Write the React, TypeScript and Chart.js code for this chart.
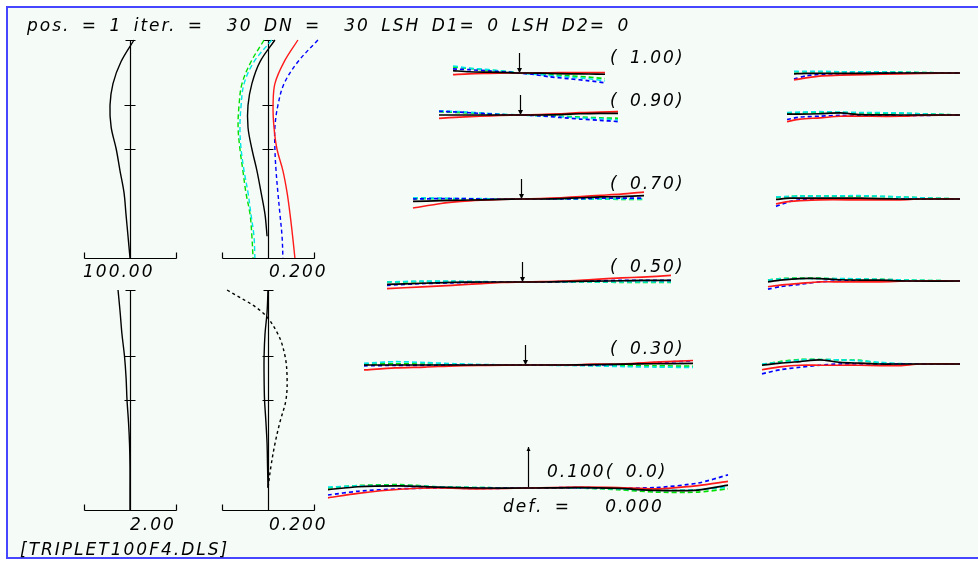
import { useEffect, useRef } from "react";
import { Chart, registerables } from "chart.js";

Chart.register(...registerables);

// ======================= DATA =======================
// relative field height levels used by the four left-hand plots
const heightLevels = [1.0, 0.9, 0.8, 0.7, 0.6, 0.5, 0.4, 0.3, 0.2, 0.1, 0.0];
const heightTicks = [0.7, 0.5];

// top-left plot (full scale 100.00)
const scaleTopLeft = 100.0;
const topLeftBlack = [8.7, -19.6, -37.0, -43.5, -41.0, -30.0, -21.7, -13.0, -8.7, -4.3, 0.0];

// top-right plot (full scale 0.200)
const scaleTopRight = 0.2;
const topRightBlack = [0.030, -0.035, -0.070, -0.087, -0.087, -0.070, -0.048, -0.030, -0.013, -0.004, null];
const topRightRed = [0.130, 0.070, 0.030, 0.022, 0.026, 0.039, 0.065, 0.083, 0.096, 0.107, 0.117];
const topRightBlue = [0.217, 0.130, 0.070, 0.043, 0.030, 0.030, 0.035, 0.043, 0.052, 0.061, 0.065];
const topRightCyan = [0.017, -0.061, -0.104, -0.117, -0.122, -0.117, -0.104, -0.087, -0.074, -0.061, -0.057];
const topRightGreen = [-0.017, -0.074, -0.113, -0.126, -0.130, -0.122, -0.109, -0.096, -0.078, -0.070, -0.065];

// bottom-left plot (full scale 2.00)
const scaleBottomLeft = 2.0;
const bottomLeftBlack = [-0.52, -0.43, -0.35, -0.24, -0.17, -0.13, -0.065, -0.02, 0, 0, 0];

// bottom-right plot (full scale 0.200)
const scaleBottomRight = 0.2;
const bottomRightSolid = [0, -0.004, -0.013, -0.017, -0.017, -0.015, -0.009, -0.004, -0.002, 0, null];
const bottomRightDashed = [-0.178, -0.026, 0.043, 0.074, 0.083, 0.078, 0.052, 0.030, 0.013, 0, null];

// ray fans
const fanScale = 0.1;
const defocus = 0.0;
const fanFields = ["1.00", "0.90", "0.70", "0.50", "0.30", "0.0"];

// tangential fans
const tan100Pupil = [-0.33, -0.25, -0.15, -0.05, 0, 0.05, 0.15, 0.25, 0.35, 0.43];
const tan100Black = [0.0057, 0.003, 0.002, 0.001, 0, 0, -0.001, -0.002, -0.0025, -0.003];
const tan100Red = [-0.004, -0.002, -0.001, 0, 0, 0, 0.0005, 0.001, 0.001, 0.001];
const tan100Blue = [0.010, 0.008, 0.005, 0.002, 0, -0.002, -0.009, -0.014, -0.019, -0.024];
const tan100Cyan = [0.017, 0.012, 0.008, 0.003, 0, -0.002, -0.006, -0.010, -0.014, -0.019];
const tan100Green = [0.0147, 0.011, 0.007, 0.003, 0, -0.001, -0.004, -0.007, -0.010, -0.014];

const tan090Pupil = [-0.405, -0.3, -0.2, -0.1, 0, 0.1, 0.2, 0.3, 0.4, 0.49];
const tan090Black = [0, 0, 0, 0, 0, 0, 0.001, 0.003, 0.004, 0.004];
const tan090Red = [-0.008, -0.005, -0.003, -0.001, 0, 0.001, 0.003, 0.006, 0.007, 0.008];
const tan090Blue = [0.009, 0.007, 0.004, 0.001, 0, -0.002, -0.006, -0.010, -0.013, -0.016];
const tan090Cyan = [0.010, 0.008, 0.005, 0.002, 0, -0.002, -0.004, -0.007, -0.009, -0.012];
const tan090Green = [0.008, 0.006, 0.004, 0.001, 0, -0.001, -0.003, -0.005, -0.007, -0.008];

const tan070Pupil = [-0.54, -0.4, -0.3, -0.2, -0.1, 0, 0.1, 0.2, 0.3, 0.4, 0.5, 0.615];
const tan070Black = [-0.006, -0.004, -0.003, -0.002, -0.001, 0, 0, 0.001, 0.003, 0.005, 0.006, 0.008];
const tan070Red = [-0.022, -0.011, -0.006, -0.003, -0.001, 0, 0.001, 0.003, 0.006, 0.009, 0.012, 0.017];
const tan070Blue = [0, 0.001, 0.001, 0, 0, 0, 0, 0, 0.001, 0.002, 0.002, 0.002];
const tan070Cyan = [0.003, 0.002, 0.001, 0.001, 0, 0, 0, 0, 0, 0, 0, 0];
const tan070Green = [0.001, 0.001, 0, 0, 0, 0, 0, 0, 0, 0, -0.001, -0.001];

const tan050Pupil = [-0.675, -0.5, -0.35, -0.2, -0.1, 0, 0.1, 0.2, 0.35, 0.5, 0.6, 0.745];
const tan050Black = [-0.006, -0.003, -0.001, 0, 0, 0, 0, 0.001, 0.002, 0.003, 0.004, 0.004];
const tan050Red = [-0.016, -0.012, -0.008, -0.004, -0.001, 0, 0.001, 0.002, 0.006, 0.010, 0.012, 0.016];
const tan050Blue = [-0.008, -0.004, -0.002, -0.001, 0, 0, 0, 0.001, 0.003, 0.004, 0.004, 0.004];
const tan050Cyan = [0, 0.002, 0.002, 0.001, 0, 0, 0, 0, 0, 0, 0, 0];
const tan050Green = [0, 0.001, 0.001, 0, 0, 0, 0, 0, 0, -0.001, -0.001, -0.001];

const tan030Pupil = [-0.805, -0.65, -0.5, -0.35, -0.2, 0, 0.2, 0.35, 0.5, 0.65, 0.84];
const tan030Black = [0, 0, 0, 0, 0, 0, 0, 0.001, 0.002, 0.003, 0.004];
const tan030Red = [-0.012, -0.007, -0.005, -0.002, -0.001, 0, 0, 0.002, 0.003, 0.007, 0.011];
const tan030Blue = [-0.002, -0.001, -0.001, 0, 0, 0, 0, 0, 0.002, 0.006, 0.010];
const tan030Cyan = [0.004, 0.008, 0.006, 0.003, 0.001, 0, -0.001, -0.002, -0.004, -0.005, -0.006];
const tan030Green = [0.002, 0.003, 0.002, 0.001, 0, 0, 0, -0.001, -0.002, -0.002, -0.003];

const tan000Pupil = [-1.0, -0.85, -0.64, -0.45, -0.25, 0, 0.25, 0.45, 0.64, 0.85, 1.0];
const tan000Black = [-0.004, 0.003, 0.005, 0.002, 0, 0, 0.001, -0.001, -0.006, -0.005, 0.007];
const tan000Red = [-0.024, -0.013, -0.003, 0, -0.002, 0, 0.002, 0.001, -0.002, 0.006, 0.016];
const tan000Blue = [-0.017, -0.008, -0.002, 0, -0.001, 0, 0.001, 0, 0.001, 0.012, 0.032];
const tan000Cyan = [0.002, 0.005, 0.006, 0.003, 0.001, 0, 0, -0.002, -0.006, -0.004, 0.002];
const tan000Green = [0, 0.006, 0.008, 0.003, 0.001, 0, 0, -0.004, -0.010, -0.010, -0.002];

// sagittal fans (pupil edge on the left, centre on the right)
const sag100Pupil = [-0.83, -0.77, -0.69, -0.6, -0.475, -0.3, -0.19, 0];
const sag100Black = [-0.002, -0.001, -0.001, -0.001, -0.001, 0, 0, 0];
const sag100Red = [-0.017, -0.012, -0.007, -0.005, -0.004, -0.002, -0.001, 0];
const sag100Blue = [-0.015, -0.007, -0.003, -0.002, -0.001, 0, 0, 0];
const sag100Cyan = [0.004, 0.004, 0.004, 0.003, 0.003, 0.002, 0.001, 0];
const sag100Green = [0.003, 0.003, 0.003, 0.003, 0.003, 0.002, 0.001, 0];

const sag090Pupil = [-0.865, -0.8, -0.7, -0.6, -0.5, -0.3, -0.2, 0];
const sag090Black = [0.002, 0.002, 0.003, 0.005, 0.001, 0, 0, 0];
const sag090Red = [-0.016, -0.010, -0.007, -0.003, -0.003, -0.003, -0.001, 0];
const sag090Blue = [-0.011, -0.005, -0.003, -0.001, -0.002, -0.002, -0.001, 0];
const sag090Cyan = [0.006, 0.007, 0.008, 0.007, 0.006, 0.005, 0.003, 0];
const sag090Green = [0.004, 0.005, 0.006, 0.006, 0.005, 0.004, 0.003, 0];

const sag070Pupil = [-0.92, -0.85, -0.8, -0.7, -0.5, -0.3, -0.2, 0];
const sag070Black = [-0.001, 0.002, 0.002, 0.002, 0.002, 0, 0, 0];
const sag070Red = [-0.012, -0.006, -0.004, -0.002, -0.002, -0.002, 0, 0];
const sag070Blue = [-0.018, -0.006, -0.002, 0, 0, 0, 0, 0];
const sag070Cyan = [0.005, 0.006, 0.007, 0.007, 0.008, 0.005, 0.003, 0];
const sag070Green = [0.004, 0.006, 0.007, 0.007, 0.007, 0.005, 0.003, 0];

const sag050Pupil = [-0.96, -0.9, -0.8, -0.7, -0.6, -0.4, -0.25, 0];
const sag050Black = [-0.002, 0.002, 0.006, 0.006, 0.003, 0.002, 0, 0];
const sag050Red = [-0.014, -0.010, -0.006, -0.002, -0.002, -0.002, 0, 0];
const sag050Blue = [-0.020, -0.014, -0.008, -0.002, 0, 0, 0, 0];
const sag050Cyan = [0.002, 0.005, 0.006, 0.006, 0.006, 0.004, 0.002, 0];
const sag050Green = [0.002, 0.006, 0.007, 0.007, 0.005, 0.004, 0.002, 0];

const sag030Pupil = [-0.99, -0.9, -0.8, -0.7, -0.6, -0.5, -0.4, -0.3, -0.2, 0];
const sag030Black = [-0.003, 0.002, 0.006, 0.010, 0.004, 0.002, 0, 0, 0, 0];
const sag030Red = [-0.014, -0.007, -0.003, -0.003, -0.003, -0.003, -0.004, -0.004, 0, 0];
const sag030Blue = [-0.024, -0.014, -0.008, -0.003, 0, 0, 0, 0, 0, 0];
const sag030Cyan = [0, 0.004, 0.010, 0.011, 0.010, 0.008, 0.004, 0.001, 0, 0];
const sag030Green = [-0.002, 0.006, 0.011, 0.011, 0.010, 0.009, 0.002, 0, 0, 0];

// header / captions
const headerText = "pos. = 1 iter. =  30 DN =  30 LSH D1= 0 LSH D2= 0";
const fileName = "[TRIPLET100F4.DLS]";

// ======================= STYLE / LAYOUT =======================
type Box = { left: number; top: number; width: number; height: number };
type Spec = {
  box: Box;
  ox: number;
  oy: number;
  kx: number;
  ky: number;
  datasets: any[];
  decor: (c: Chart) => void;
};

const LINE = {
  black: { borderColor: "#000000", borderDash: [] as number[] },
  red: { borderColor: "#ff1a1a", borderDash: [] as number[] },
  blue: { borderColor: "#0000ff", borderDash: [4, 3] },
  cyan: { borderColor: "#00e6e6", borderDash: [5, 3] },
  green: { borderColor: "#00e000", borderDash: [5, 3] },
};
type LineKey = keyof typeof LINE;

function vertSeries(values: (number | null)[], key: LineKey, dash?: number[]) {
  const data = heightLevels
    .map((h, i) => (values[i] === null ? null : { x: values[i] as number, y: h }))
    .filter((p) => p !== null);
  return {
    data,
    borderColor: LINE[key].borderColor,
    borderDash: dash ?? LINE[key].borderDash,
    borderWidth: 1.4,
    pointRadius: 0,
    tension: 0.35,
    fill: false,
  };
}

function fanSeries(pupil: number[], values: number[], key: LineKey) {
  return {
    data: pupil.map((p, i) => ({ x: p, y: values[i] })),
    borderColor: LINE[key].borderColor,
    borderDash: LINE[key].borderDash,
    borderWidth: 1.7,
    pointRadius: 0,
    tension: 0.25,
    fill: false,
  };
}

function fanSet(pupil: number[], k: number[], r: number[], b: number[], c: number[], g: number[]) {
  return [
    fanSeries(pupil, k, "black"),
    fanSeries(pupil, r, "red"),
    fanSeries(pupil, b, "blue"),
    fanSeries(pupil, c, "cyan"),
    fanSeries(pupil, g, "green"),
  ];
}

function leftDecor(scale: number) {
  return (c: Chart) => {
    const ctx = c.ctx;
    const X = c.scales.x;
    const Y = c.scales.y;
    const r = (v: number) => Math.round(v) + 0.5;
    const x0 = r(X.getPixelForValue(0));
    const yTop = r(Y.getPixelForValue(1));
    const yBot = r(Y.getPixelForValue(0));
    const xl = r(X.getPixelForValue(-scale));
    const xr = r(X.getPixelForValue(scale));
    ctx.save();
    ctx.strokeStyle = "#000";
    ctx.lineWidth = 1.2;
    ctx.setLineDash([]);
    ctx.beginPath();
    ctx.moveTo(x0, yTop);
    ctx.lineTo(x0, yBot);
    ctx.moveTo(x0 - 5, yTop);
    ctx.lineTo(x0 + 5, yTop);
    heightTicks.forEach((h) => {
      const y = r(Y.getPixelForValue(h));
      ctx.moveTo(x0 - 6, y);
      ctx.lineTo(x0 + 5, y);
    });
    ctx.moveTo(xl, yBot);
    ctx.lineTo(xr, yBot);
    ctx.moveTo(xl, yBot);
    ctx.lineTo(xl, yBot - 6);
    ctx.moveTo(xr, yBot);
    ctx.lineTo(xr, yBot - 6);
    ctx.stroke();
    ctx.restore();
  };
}

function arrowDecor(mode: "down" | "scale" | "none") {
  return (c: Chart) => {
    if (mode === "none") return;
    const ctx = c.ctx;
    const X = c.scales.x;
    const Y = c.scales.y;
    const x0 = Math.round(X.getPixelForValue(0)) + 0.5;
    const y0 = Y.getPixelForValue(0);
    const y1 = mode === "scale" ? Y.getPixelForValue(fanScale) : y0 - 20;
    ctx.save();
    ctx.strokeStyle = "#000";
    ctx.fillStyle = "#000";
    ctx.lineWidth = 1.2;
    ctx.setLineDash([]);
    ctx.beginPath();
    ctx.moveTo(x0, y0);
    ctx.lineTo(x0, y1);
    ctx.stroke();
    ctx.beginPath();
    if (mode === "down") {
      ctx.moveTo(x0 - 2.5, y0 - 5);
      ctx.lineTo(x0 + 2.5, y0 - 5);
      ctx.lineTo(x0, y0);
    } else {
      ctx.moveTo(x0 - 2, y1 + 4);
      ctx.lineTo(x0 + 2, y1 + 4);
      ctx.lineTo(x0, y1);
    }
    ctx.closePath();
    ctx.fill();
    ctx.restore();
  };
}

const LEFT_KX = 46; // px per full-scale value
const SPECS: Spec[] = [];

// four left plots
const leftPlots = [
  { ox: 130, oy: 258, ky: 218, scale: scaleTopLeft, sets: [vertSeries(topLeftBlack, "black")] },
  {
    ox: 268, oy: 258, ky: 218, scale: scaleTopRight,
    sets: [
      vertSeries(topRightBlack, "black"),
      vertSeries(topRightRed, "red"),
      vertSeries(topRightBlue, "blue"),
      vertSeries(topRightCyan, "cyan"),
      vertSeries(topRightGreen, "green"),
    ],
  },
  { ox: 130, oy: 510, ky: 220, scale: scaleBottomLeft, sets: [vertSeries(bottomLeftBlack, "black")] },
  {
    ox: 268, oy: 510, ky: 220, scale: scaleBottomRight,
    sets: [vertSeries(bottomRightSolid, "black"), vertSeries(bottomRightDashed, "black", [3, 3])],
  },
];
leftPlots.forEach((p) => {
  SPECS.push({
    box: { left: p.ox - 62, top: p.oy - 232, width: 134, height: 248 },
    ox: p.ox,
    oy: p.oy,
    kx: LEFT_KX / p.scale,
    ky: p.ky,
    datasets: p.sets,
    decor: leftDecor(p.scale),
  });
});

const FAN_KX = 200;
const FAN_KY = 410;
const tanFans = [
  { cx: 519, cy: 73, sets: fanSet(tan100Pupil, tan100Black, tan100Red, tan100Blue, tan100Cyan, tan100Green) },
  { cx: 520, cy: 115, sets: fanSet(tan090Pupil, tan090Black, tan090Red, tan090Blue, tan090Cyan, tan090Green) },
  { cx: 521, cy: 199, sets: fanSet(tan070Pupil, tan070Black, tan070Red, tan070Blue, tan070Cyan, tan070Green) },
  { cx: 522, cy: 282, sets: fanSet(tan050Pupil, tan050Black, tan050Red, tan050Blue, tan050Cyan, tan050Green) },
  { cx: 525, cy: 365, sets: fanSet(tan030Pupil, tan030Black, tan030Red, tan030Blue, tan030Cyan, tan030Green) },
  { cx: 528, cy: 488, sets: fanSet(tan000Pupil, tan000Black, tan000Red, tan000Blue, tan000Cyan, tan000Green) },
];
tanFans.forEach((f, i) => {
  SPECS.push({
    box: { left: f.cx - 220, top: f.cy - 50, width: 440, height: 80 },
    ox: f.cx,
    oy: f.cy,
    kx: FAN_KX,
    ky: FAN_KY,
    datasets: f.sets,
    decor: arrowDecor(i === tanFans.length - 1 ? "scale" : "down"),
  });
});
const sagFans = [
  { cx: 960, cy: 73, sets: fanSet(sag100Pupil, sag100Black, sag100Red, sag100Blue, sag100Cyan, sag100Green) },
  { cx: 960, cy: 115, sets: fanSet(sag090Pupil, sag090Black, sag090Red, sag090Blue, sag090Cyan, sag090Green) },
  { cx: 960, cy: 199, sets: fanSet(sag070Pupil, sag070Black, sag070Red, sag070Blue, sag070Cyan, sag070Green) },
  { cx: 960, cy: 281, sets: fanSet(sag050Pupil, sag050Black, sag050Red, sag050Blue, sag050Cyan, sag050Green) },
  { cx: 960, cy: 364, sets: fanSet(sag030Pupil, sag030Black, sag030Red, sag030Blue, sag030Cyan, sag030Green) },
];
sagFans.forEach((f) => {
  SPECS.push({
    box: { left: f.cx - 215, top: f.cy - 30, width: 233, height: 60 },
    ox: f.cx,
    oy: f.cy,
    kx: FAN_KX,
    ky: FAN_KY,
    datasets: f.sets,
    decor: arrowDecor("none"),
  });
});

function PanelChart({ spec }: { spec: Spec }) {
  const ref = useRef<HTMLCanvasElement>(null);
  useEffect(() => {
    const { box, ox, oy, kx, ky, datasets, decor } = spec;
    const chart = new Chart(ref.current as HTMLCanvasElement, {
      type: "line",
      data: { datasets },
      options: {
        responsive: false,
        maintainAspectRatio: false,
        animation: false,
        events: [],
        layout: { padding: 0 },
        plugins: { legend: { display: false }, tooltip: { enabled: false }, title: { display: false } },
        scales: {
          x: {
            type: "linear",
            display: false,
            bounds: "data",
            min: (box.left - ox) / kx,
            max: (box.left + box.width - ox) / kx,
          },
          y: {
            type: "linear",
            display: false,
            bounds: "data",
            min: (oy - box.top - box.height) / ky,
            max: (oy - box.top) / ky,
          },
        },
      } as any,
      plugins: [{ id: "decor", beforeDatasetsDraw: (c: Chart) => decor(c) }],
    });
    return () => chart.destroy();
  }, [spec]);
  const { box } = spec;
  return (
    <canvas
      ref={ref}
      width={box.width}
      height={box.height}
      style={{ position: "absolute", left: box.left, top: box.top, width: box.width, height: box.height }}
    />
  );
}

const FONT = '"DejaVu Sans", "Liberation Sans", Arial, sans-serif';
function Label({ x, baseline, text }: { x: number; baseline: number; text: string }) {
  return (
    <div
      style={{
        position: "absolute",
        left: x,
        top: baseline - 14,
        fontFamily: FONT,
        fontStyle: "italic",
        fontSize: 17,
        lineHeight: "17px",
        letterSpacing: 2,
        wordSpacing: 4,
        whiteSpace: "pre",
        color: "#000",
      }}
    >
      {text}
    </div>
  );
}

const fieldLabelBaselines = [63, 106, 189, 272, 354];

export default function App() {
  useEffect(() => {
    document.body.style.margin = "0";
  }, []);
  return (
    <div
      style={{
        position: "fixed",
        left: 0,
        top: 0,
        width: 978,
        height: 563,
        overflow: "hidden",
        background: "#ffffff",
      }}
    >
      <div
        style={{
          position: "absolute",
          left: 6,
          top: 6,
          width: 990,
          height: 549,
          borderTop: "2px solid #4646ff",
          borderLeft: "2px solid #4646ff",
          borderBottom: "2px solid #4646ff",
          background: "#f5fbf7",
        }}
      />
      {SPECS.map((s, i) => (
        <PanelChart key={i} spec={s} />
      ))}
      <Label x={27} baseline={31} text={headerText} />
      <Label x={83} baseline={277} text={scaleTopLeft.toFixed(2)} />
      <Label x={269} baseline={277} text={scaleTopRight.toFixed(3)} />
      <Label x={130} baseline={530} text={scaleBottomLeft.toFixed(2)} />
      <Label x={269} baseline={530} text={scaleBottomRight.toFixed(3)} />
      {fieldLabelBaselines.map((b, i) => (
        <Label key={i} x={610} baseline={b} text={`( ${fanFields[i]})`} />
      ))}
      <Label x={547} baseline={477} text={`${fanScale.toFixed(3)}( ${fanFields[5]})`} />
      <Label x={503} baseline={512} text={`def. =   ${defocus.toFixed(3)}`} />
      <Label x={20} baseline={555} text={fileName} />
    </div>
  );
}
